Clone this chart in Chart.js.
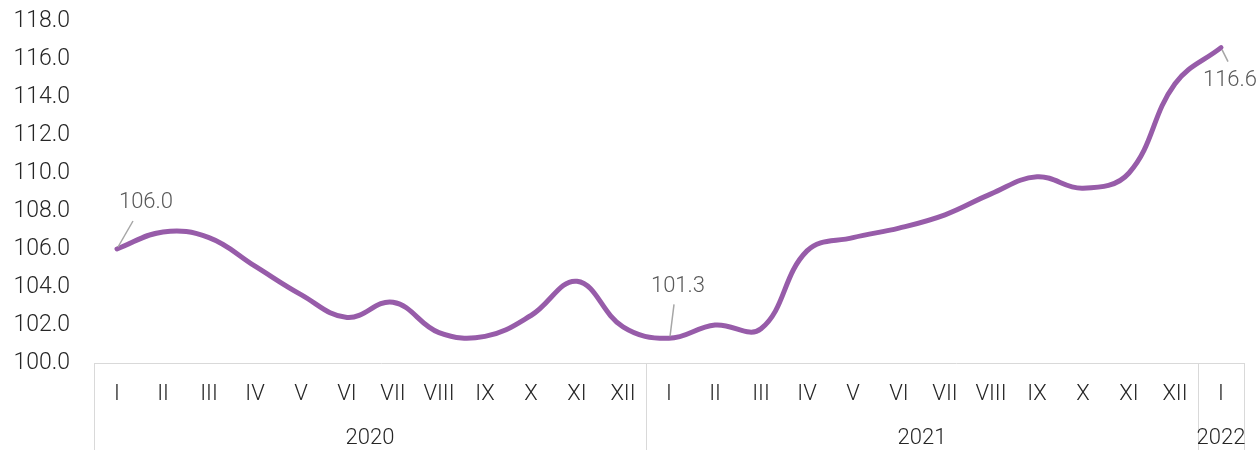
<!DOCTYPE html>
<html>
<head>
<meta charset="utf-8">
<script src="https://cdn.jsdelivr.net/npm/chart.js@4"></script>
<style>
  html, body { margin: 0; padding: 0; background: #fff; }
  #wrap { width: 1259px; height: 450px; position: relative; }
</style>
</head>
<body>
<div id="wrap"><canvas id="chart"></canvas></div>
<script>
const months = ['I', 'II', 'III', 'IV', 'V', 'VI', 'VII', 'VIII', 'IX', 'X', 'XI', 'XII',
  'I', 'II', 'III', 'IV', 'V', 'VI', 'VII', 'VIII', 'IX', 'X', 'XI', 'XII', 'I'];
const years = ['2020', '2021', '2022'];
const yearSpans = [12, 12, 1];
const values = [106.0, 106.9, 106.6, 105.1, 103.6, 102.4, 103.2, 101.6, 101.4, 102.5, 104.3, 101.9,
  101.3, 102.0, 101.8, 105.9, 106.6, 107.1, 107.8, 108.9, 109.8, 109.2, 110.0, 114.7, 116.6];
const labelled = [0, 12, 24];

const FONT = 'Roboto, "Noto Sans", sans-serif';
const BOX = '#d9d9d9';
const TEXT = '#262626';

// where each value label sits relative to its point, and its leader line
const labelPos = {
  0: { dx: 29, dy: -47, lx: 16, ly: -28 },
  12: { dx: 9, dy: -52, lx: 5, ly: -34 },
  24: { dx: 9, dy: 33, lx: 7, ly: 14 }
};

const axisBox = {
  id: 'axisBox',
  afterDraw(chart) {
    const ctx = chart.ctx;
    const x = chart.scales.x, area = chart.chartArea;
    const bottom = chart.height;
    ctx.save();
    ctx.strokeStyle = BOX;
    ctx.lineWidth = 1;
    ctx.beginPath();
    ctx.moveTo(area.left, area.bottom + 0.5);
    ctx.lineTo(area.right, area.bottom + 0.5);
    // group dividers
    let idx = 0;
    const step = x.getPixelForValue(1) - x.getPixelForValue(0);
    const edges = [area.left];
    yearSpans.forEach(n => { idx += n; edges.push(x.getPixelForValue(idx - 1) + step / 2); });
    edges.forEach(px => {
      const p = Math.round(px) + 0.5;
      ctx.moveTo(p, area.bottom);
      ctx.lineTo(p, bottom);
    });
    ctx.stroke();
    // year labels
    ctx.fillStyle = TEXT;
    ctx.font = '300 22px ' + FONT;
    ctx.textAlign = 'center';
    ctx.textBaseline = 'middle';
    years.forEach((y, i) => {
      const mid = (edges[i] + edges[i + 1]) / 2;
      ctx.fillText(y, mid, 438);
    });
    // value labels
    const meta = chart.getDatasetMeta(0);
    labelled.forEach(i => {
      const pt = meta.data[i];
      const p = labelPos[i];
      ctx.strokeStyle = '#a6a6a6';
      ctx.lineWidth = 1.5;
      ctx.beginPath();
      ctx.moveTo(pt.x + 1, pt.y - (p.ly < 0 ? 2 : -2));
      ctx.lineTo(pt.x + p.lx, pt.y + p.ly);
      ctx.stroke();
      ctx.fillStyle = '#595959';
      ctx.fillText(values[i].toFixed(1), pt.x + p.dx, pt.y + p.dy);
    });
    ctx.restore();
  }
};

new Chart(document.getElementById('chart'), {
  type: 'line',
  data: {
    labels: months,
    datasets: [{
      data: values,
      borderColor: '#975ca9',
      borderWidth: 5,
      borderCapStyle: 'round',
      tension: 0.4,
      pointRadius: 0,
      fill: false
    }]
  },
  options: {
    responsive: true,
    maintainAspectRatio: false,
    animation: false,
    layout: { padding: { top: 21, right: 15, left: 0, bottom: 0 } },
    plugins: { legend: { display: false }, tooltip: { enabled: false } },
    scales: {
      x: {
        offset: true,
        grid: { display: false, drawTicks: false },
        border: { display: false },
        ticks: {
          color: TEXT, font: { family: FONT, size: 22, weight: '300' },
          padding: 18, maxRotation: 0, autoSkip: false
        },
        afterFit: s => { s.height = 87; }
      },
      y: {
        min: 100, max: 118,
        // tick marks are hidden, their length only pushes the labels left
        grid: { display: false, drawTicks: true, tickLength: 24 },
        border: { display: false },
        ticks: {
          stepSize: 2, padding: 0, color: TEXT,
          font: { family: FONT, size: 23, weight: '300' },
          callback: v => v.toFixed(1)
        },
        afterFit: s => { s.width = 94; }
      }
    }
  },
  plugins: [axisBox]
});
</script>
</body>
</html>
